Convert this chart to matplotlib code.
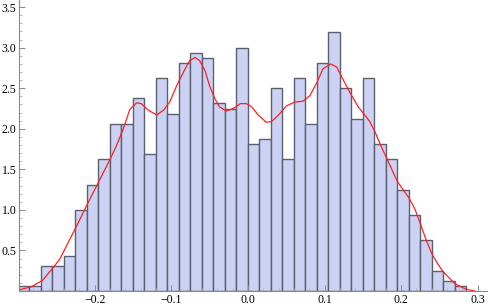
import matplotlib.pyplot as plt
from matplotlib.ticker import MultipleLocator, FuncFormatter
import numpy as np

# histogram (density), bins of width 0.015 starting at -0.3
bin_left = np.round(np.arange(-0.3, 0.285, 0.015), 3)
heights = [0.0625, 0.0625, 0.3125, 0.3125, 0.4375, 1.0, 1.3125, 1.625, 2.0625, 2.0625,
           2.375, 1.6875, 2.625, 2.1875, 2.8125, 2.9375, 2.875, 2.3125, 2.25, 3.0,
           1.8125, 1.875, 2.5, 1.625, 2.625, 2.0625, 2.8125, 3.1875, 2.5, 2.125,
           2.625, 1.8125, 1.625, 1.25, 0.9375, 0.625, 0.25, 0.125, 0.0625]

# smooth density curve
curve_x = [-0.300, -0.292, -0.283, -0.268, -0.253, -0.245, -0.223, -0.210, -0.195, -0.180,
           -0.172, -0.1625, -0.154, -0.145, -0.139, -0.130, -0.119, -0.110, -0.102, -0.093,
           -0.084, -0.076, -0.069, -0.063, -0.056, -0.050, -0.043, -0.037, -0.028, -0.019,
           -0.010, -0.002, 0.005, 0.0135, 0.024, 0.031, 0.040, 0.050, 0.061, 0.072,
           0.081, 0.090, 0.098, 0.108, 0.116, 0.124, 0.133, 0.144, 0.1525, 0.159,
           0.166, 0.174, 0.181, 0.195, 0.2025, 0.210, 0.218, 0.225, 0.233, 0.240,
           0.248, 0.255, 0.270, 0.285, 0.296]
curve_y = [0.01, 0.03, 0.05, 0.13, 0.30, 0.40, 0.81, 1.06, 1.34, 1.62,
           1.78, 2.00, 2.24, 2.32, 2.31, 2.23, 2.17, 2.23, 2.33, 2.53,
           2.70, 2.84, 2.88, 2.84, 2.72, 2.53, 2.37, 2.27, 2.22, 2.25,
           2.31, 2.31, 2.27, 2.17, 2.08, 2.09, 2.17, 2.28, 2.33, 2.34,
           2.41, 2.57, 2.74, 2.80, 2.76, 2.61, 2.45, 2.27, 2.17, 2.09,
           1.96, 1.78, 1.64, 1.35, 1.25, 1.15, 1.01, 0.83, 0.62, 0.46,
           0.33, 0.235, 0.09, 0.02, 0.0]

plt.rcParams['font.family'] = ['Liberation Serif', 'DejaVu Serif']

fig = plt.figure(figsize=(4.88, 3.07), dpi=100)
ax = fig.add_axes([19 / 488, 16 / 307, 469 / 488, 291 / 307])

ax.bar(bin_left, heights, width=0.015, align='edge', color='#cbd2f4',
       edgecolor='#5c5f6e', linewidth=1.0)
ax.plot(curve_x, curve_y, color='#ff2020', lw=0.9, solid_joinstyle='round')

ax.set_xlim(-0.2986, 0.3133)
ax.set_ylim(0, 3.588)

for s in ['top', 'right']:
    ax.spines[s].set_visible(False)
for s in ['left', 'bottom']:
    ax.spines[s].set_color('#888888')
    ax.spines[s].set_linewidth(0.8)

ax.xaxis.set_major_locator(MultipleLocator(0.1))
ax.xaxis.set_minor_locator(MultipleLocator(0.02))
ax.yaxis.set_major_locator(MultipleLocator(0.5))
ax.yaxis.set_minor_locator(MultipleLocator(0.1))


def fmt_x(v, pos):
    if abs(v + 0.3) < 1e-6:
        return ''
    s = '%.1f' % v
    return s.replace('-', '\u2212')


def fmt_y(v, pos):
    if abs(v) < 1e-6:
        return ''
    return '%.1f' % v


ax.xaxis.set_major_formatter(FuncFormatter(fmt_x))
ax.yaxis.set_major_formatter(FuncFormatter(fmt_y))
ax.tick_params(which='major', direction='in', length=4, width=0.7, color='#888888',
               labelsize=8.5, pad=2)
ax.tick_params(which='minor', direction='in', length=2, width=0.6, color='#aaaaaa')

fig.savefig('out.png', dpi=100)
